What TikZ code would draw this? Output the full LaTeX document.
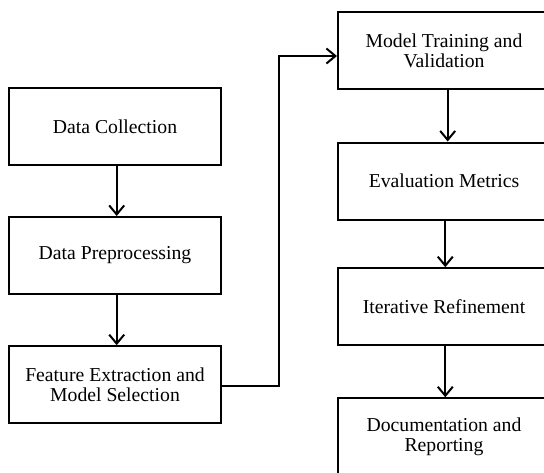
\documentclass[tikz,border=0pt]{standalone}
\usepackage{fontspec}
\setmainfont{Liberation Serif}
\usetikzlibrary{arrows.meta}
\begin{document}
\begin{tikzpicture}[x=1pt,y=-1pt,
  box/.style={draw, line width=2pt, minimum width=212pt, minimum height=77pt,
    inner sep=0pt, align=center, font=\fontsize{19.7pt}{20pt}\selectfont},
  conn/.style={line width=2pt, -{Straight Barb[length=9pt,width=15pt,line width=2pt]}}]
\useasboundingbox (0,0) rectangle (544,472);
\clip (0,0) rectangle (544,472);
\node[box] (dc) at (115,126.3) {Data Collection};
\node[box] (dp) at (115,255.5) {Data Preprocessing};
\node[box] (fe) at (115,384.7) {Feature Extraction and\\Model Selection};
\node[box] (mt) at (444,50.8) {Model Training and\\Validation};
\node[box] (em) at (444,181) {Evaluation Metrics};
\node[box] (ir) at (444,306.7) {Iterative Refinement};
\node[box] (dr) at (444,436.8) {Documentation and\\Reporting};
\coordinate (k1) at (279.3,385.7);
\coordinate (k2) at (279.3,56);
\draw[conn] ([xshift=1.7pt]dc.south) -- ([xshift=1.7pt]dp.north);
\draw[conn] ([xshift=1.7pt]dp.south) -- ([xshift=1.7pt]fe.north);
\draw[conn] (fe.east |- k1) -- (k1) -- (k2) -- (mt.west |- k2);
\draw[conn] ([xshift=3.7pt]mt.south) -- ([xshift=3.7pt]em.north);
\draw[conn] ([xshift=1.3pt]em.south) -- ([xshift=1.3pt]ir.north);
\draw[conn] ([xshift=1.3pt]ir.south) -- ([xshift=1.3pt]dr.north);
\end{tikzpicture}
\end{document}
